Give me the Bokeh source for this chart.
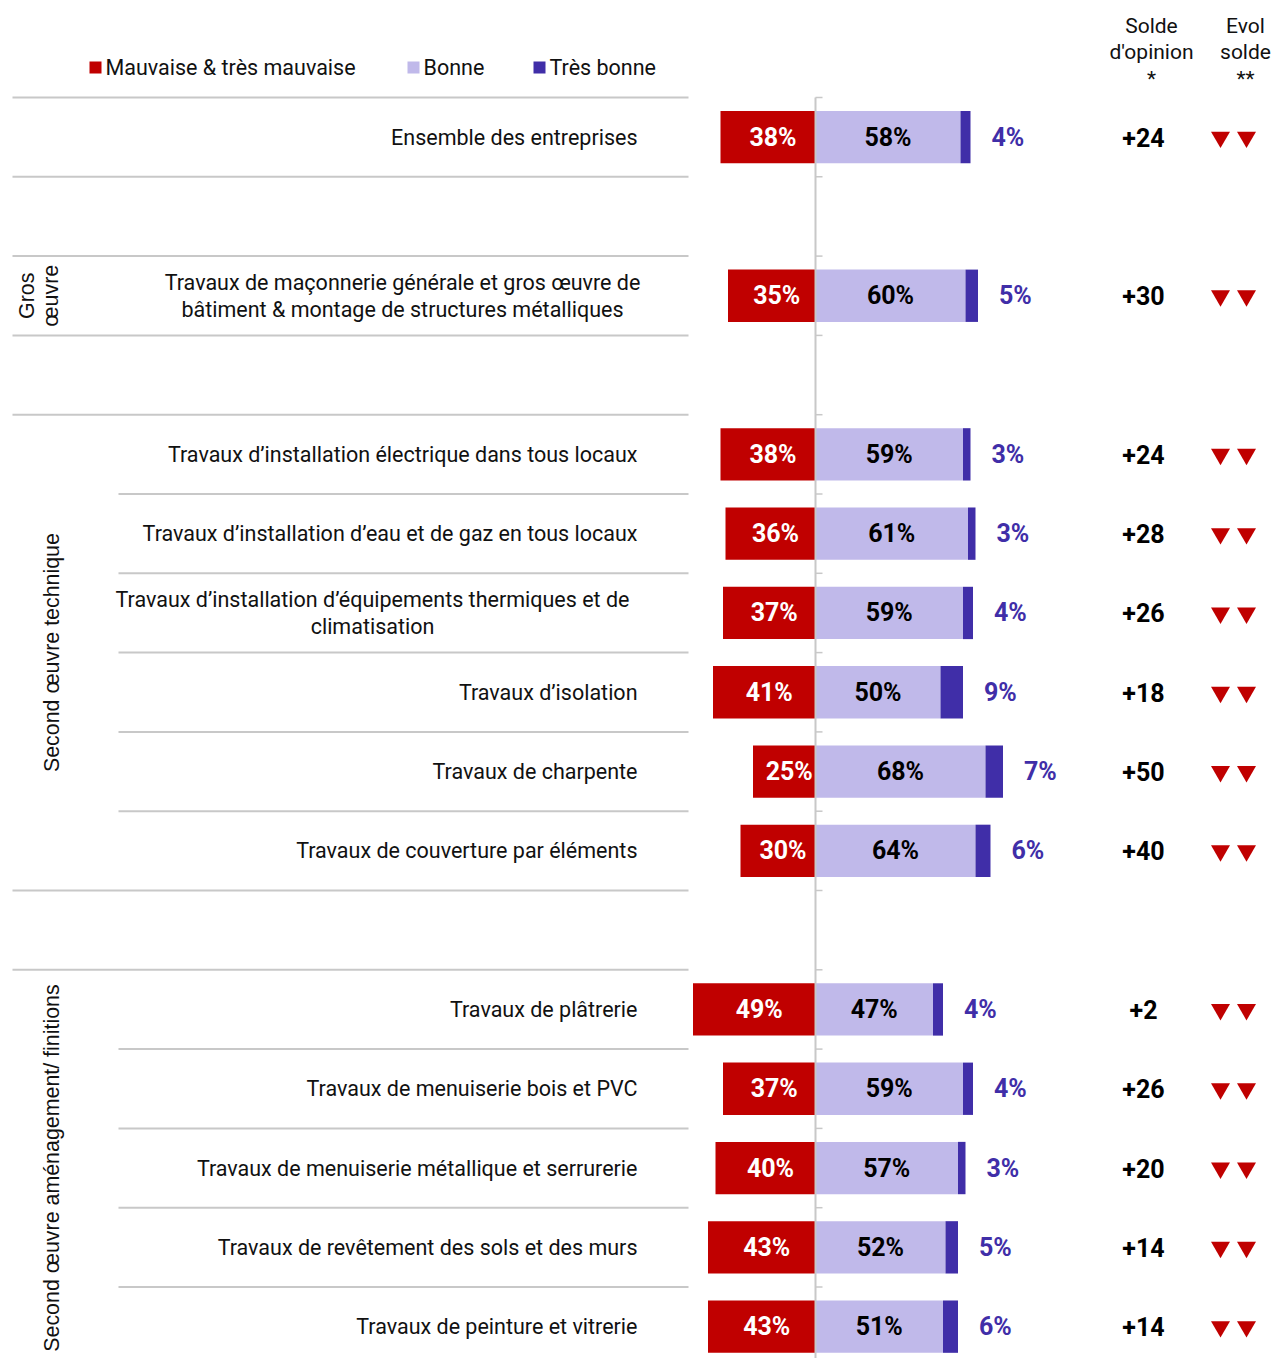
import numpy as np
from bokeh.plotting import figure
from bokeh.models import ColumnDataSource, Range1d
from bokeh.core.properties import value
from bokeh.embed import file_html
from bokeh.resources import INLINE

# ---------------- data ----------------
categories = [
    "Ensemble des entreprises",
    "Travaux de maçonnerie générale et gros œuvre de\nbâtiment & montage de structures métalliques",
    "Travaux d’installation électrique dans tous locaux",
    "Travaux d’installation d’eau et de gaz en tous locaux",
    "Travaux d’installation d’équipements thermiques et de\nclimatisation",
    "Travaux d’isolation",
    "Travaux de charpente",
    "Travaux de couverture par éléments",
    "Travaux de plâtrerie",
    "Travaux de menuiserie bois et PVC",
    "Travaux de menuiserie métallique et serrurerie",
    "Travaux de revêtement des sols et des murs",
    "Travaux de peinture et vitrerie",
]
rows = [0, 2, 4, 5, 6, 7, 8, 9, 11, 12, 13, 14, 15]
mauvaise = [38, 35, 38, 36, 37, 41, 25, 30, 49, 37, 40, 43, 43]
bonne = [58, 60, 59, 61, 59, 50, 68, 64, 47, 59, 57, 52, 51]
tres_bonne = [4, 5, 3, 3, 4, 9, 7, 6, 4, 4, 3, 5, 6]
solde = [24, 30, 24, 28, 26, 18, 50, 40, 2, 26, 20, 14, 14]
evol_down = [2, 2, 2, 2, 2, 2, 2, 2, 2, 2, 2, 2, 2]   # number of down arrows

groups = ["Gros\nœuvre", "Second œuvre technique", "Second œuvre aménagement/ finitions"]
group_first = [2, 4, 11]
group_last = [2, 9, 15]
legend_labels = ["Mauvaise & très mauvaise", "Bonne", "Très bonne"]
headers = ["Solde\nd'opinion\n*", "Evol\nsolde\n**"]
n_rows = 16
outer_bounds = [-0.5, 0.5, 1.5, 2.5, 3.5, 9.5, 10.5]
inner_bounds = [4.5, 5.5, 6.5, 7.5, 8.5, 11.5, 12.5, 13.5, 14.5]

# ---------------- style / layout ----------------
RED = "#C00000"
LIGHT = "#C0B9EA"
DARK = "#402EA8"
GRID = "#C8C8C8"
W, H = 1273, 1358
PX = 2.5          # pixels per percent
AX = 815          # pixel x of the zero axis
ROW = 79.3        # row height in px
TOP = 97          # pixel y of first boundary
FONT = value("Roboto")


def px2x(px):
    return (px - AX) / PX


def py2y(py):
    return (py - TOP) / ROW - 0.5


p = figure(width=W, height=H,
           x_range=Range1d(px2x(0), px2x(W)),
           y_range=Range1d(py2y(H), py2y(0)),
           output_backend="svg", toolbar_location=None, min_border=0,
           x_axis_type=None, y_axis_type=None)
p.grid.visible = False
p.outline_line_color = None

# separators
x_outer0, x_inner0, x_sep1 = px2x(12), px2x(118), px2x(688)
p.segment(x0=[x_outer0] * len(outer_bounds), x1=[x_sep1] * len(outer_bounds),
          y0=outer_bounds, y1=outer_bounds, line_color=GRID, line_width=2)
p.segment(x0=[x_inner0] * len(inner_bounds), x1=[x_sep1] * len(inner_bounds),
          y0=inner_bounds, y1=inner_bounds, line_color=GRID, line_width=2)
all_bounds = [i - 0.5 for i in range(n_rows + 1)]
p.segment(x0=[0] * len(all_bounds), x1=[px2x(AX + 7)] * len(all_bounds),
          y0=all_bounds, y1=all_bounds, line_color=GRID, line_width=1.5)

src = ColumnDataSource(dict(
    row=rows,
    neg=[-m for m in mauvaise],
    bonne=bonne,
    top=[b + t for b, t in zip(bonne, tres_bonne)],
    red_x=[-m / 2 + 2.0 for m in mauvaise],
    light_x=[b / 2 for b in bonne],
    red_lbl=[f"{m}%" for m in mauvaise],
    light_lbl=[f"{b}%" for b in bonne],
    dark_lbl=[f"{t}%" for t in tres_bonne],
    solde_lbl=[f"+{s}" for s in solde],
))

BH = 0.66
p.hbar(y="row", left="neg", right=0, height=BH, fill_color=RED, line_color=None, source=src)
p.hbar(y="row", left=0, right="bonne", height=BH, fill_color=LIGHT, line_color=None, source=src)
p.hbar(y="row", left="bonne", right="top", height=BH, fill_color=DARK, line_color=None, source=src)

# zero axis line
p.segment(x0=[0], x1=[0], y0=[-0.5], y1=[n_rows - 0.5], line_color=GRID, line_width=2)

# bar labels
p.text(x="red_x", y="row", text="red_lbl", source=src, text_color="white",
       text_font=FONT, text_font_style="bold", text_font_size="25px",
       text_align="center", text_baseline="middle")
p.text(x="light_x", y="row", text="light_lbl", source=src, text_color="black",
       text_font=FONT, text_font_style="bold", text_font_size="25px",
       text_align="center", text_baseline="middle")
p.text(x="top", y="row", text="dark_lbl", source=src, text_color=DARK, x_offset=21,
       text_font=FONT, text_font_style="bold", text_font_size="25px",
       text_align="left", text_baseline="middle")

# solde
p.text(x=[px2x(1143)] * len(rows), y=rows, text=src.data["solde_lbl"], text_color="black",
       text_font=FONT, text_font_style="bold", text_font_size="25px",
       text_align="center", text_baseline="middle")

# evolution arrows
ax_, ay_ = [], []
for r, n in zip(rows, evol_down):
    for k in range(n):
        ax_.append(px2x(1220 + 26 * k))
        ay_.append(r)
p.scatter(x=ax_, y=ay_, marker="inverted_triangle", size=19, fill_color=RED, line_color=None)

# category labels
LABEL_X = px2x(637)
CHAR_PX = 10.0
single_x, single_y, single_t = [], [], []
multi_x, multi_y, multi_t = [], [], []
for c, r in zip(categories, rows):
    if "\n" in c:
        longest = max(len(l) for l in c.split("\n"))
        multi_x.append(LABEL_X - longest * CHAR_PX / 2 / PX)
        multi_y.append(r)
        multi_t.append(c)
    else:
        single_x.append(LABEL_X)
        single_y.append(r)
        single_t.append(c)
p.text(x=single_x, y=single_y, text=single_t, text_font=FONT, text_font_size="21.5px",
       text_color="#111111", text_align="right", text_baseline="middle")
p.text(x=multi_x, y=multi_y, text=multi_t, text_font=FONT, text_font_size="21.5px",
       text_color="#111111", text_align="center", text_baseline="middle", text_line_height=1.1)

# group labels (rotated)
gx = [px2x(38.5), px2x(51), px2x(51)]
gy = [(group_first[0] + group_last[0]) / 2,
      (group_first[1] + group_last[1]) / 2,
      (group_first[2] + n_rows - 1) / 2]
p.text(x=gx, y=gy, text=groups, angle=np.pi / 2, text_font=value("Liberation Sans"),
       text_font_size="21.4px", text_color="#111111", text_align="center",
       text_baseline="middle", text_line_height=1.0)

# legend
leg_y = py2y(67)
leg_sq_x = [px2x(95), px2x(413), px2x(539)]
leg_colors = [RED, LIGHT, DARK]
p.scatter(x=leg_sq_x, y=[leg_y] * 3, marker="square", size=12, fill_color=leg_colors, line_color=None)
p.text(x=[x + 10 / PX for x in leg_sq_x], y=[leg_y] * 3, text=legend_labels, text_font=FONT,
       text_font_size="21.5px", text_color="#111111", text_align="left", text_baseline="middle")

# headers
p.text(x=[px2x(1151), px2x(1245)], y=[py2y(52)] * 2, text=headers, text_font=FONT,
       text_font_size="21px", text_color="#111111", text_align="center",
       text_baseline="middle", text_line_height=1.12)

open("out.html", "w").write(file_html(p, INLINE))
